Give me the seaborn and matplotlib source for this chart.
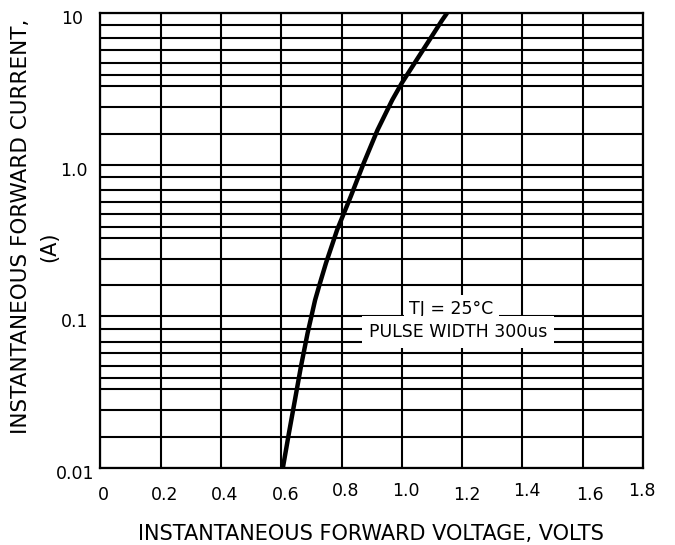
import numpy as np
import pandas as pd
import matplotlib
matplotlib.use("Agg")
import matplotlib.pyplot as plt
import matplotlib.transforms as mtransforms
from matplotlib.ticker import FixedLocator, NullFormatter
import seaborn as sns

# ---- data ----
voltage = [0.605, 0.625, 0.645, 0.665, 0.687, 0.712, 0.728, 0.748, 0.785, 0.830,
           0.873, 0.919, 0.968, 1.000, 1.070, 1.134, 1.150]
current = [0.010, 0.0169, 0.028, 0.0466, 0.0773, 0.128, 0.165, 0.224, 0.371, 0.615,
           1.02, 1.69, 2.67, 3.46, 5.7, 9.0, 10.0]

x_ticks = [0, 0.2, 0.4, 0.6, 0.8, 1.0, 1.2, 1.4, 1.6, 1.8]
x_tick_labels = ["0", "0.2", "0.4", "0.6", "0.8", "1.0", "1.2", "1.4", "1.6", "1.8"]
y_ticks = [0.01, 0.1, 1, 10]
y_tick_labels = ["0.01", "0.1", "1.0", "10"]
# horizontal grid lines inside each decade, as drawn on the reference sheet
grid_mantissas = [1.6, 2.4, 3.3, 3.9, 4.7, 5.7, 6.8, 8.3]
decades = [0.01, 0.1, 1]

x_label = "INSTANTANEOUS FORWARD VOLTAGE, VOLTS"
y_label_line1 = "INSTANTANEOUS FORWARD CURRENT,"
y_label_line2 = "(A)"
note_line1 = "TJ = 25°C"
note_line2 = "PULSE WIDTH 300us"

df = pd.DataFrame({"V": voltage, "I": current})

sns.set_style("white")
plt.rcParams["font.family"] = ["DejaVu Sans"]
plt.rcParams["text.color"] = "black"
plt.rcParams["axes.labelcolor"] = "black"
plt.rcParams["xtick.color"] = "black"
plt.rcParams["ytick.color"] = "black"

W, H = 675, 545
fig = plt.figure(figsize=(W / 100, H / 100), dpi=100)
L, R, T, B = 100.5, 643, 13, 468
ax = fig.add_axes([L / W, 1 - B / H, (R - L) / W, (B - T) / H])

ax.set_yscale("log")
ax.set_xlim(0, 1.8)
ax.set_ylim(0.01, 10)

# grid
minor = [m * d for d in decades for m in grid_mantissas]
ax.yaxis.set_minor_locator(FixedLocator(minor))
ax.yaxis.set_minor_formatter(NullFormatter())
ax.set_xticks(x_ticks)
ax.set_xticklabels(x_tick_labels)
ax.set_yticks(y_ticks)
ax.set_yticklabels(y_tick_labels)
ax.grid(True, which="both", axis="y", color="black", lw=1.5)
ax.grid(True, which="major", axis="x", color="black", lw=1.5)
ax.set_axisbelow(True)
for s in ax.spines.values():
    s.set_color("black")
    s.set_linewidth(1.6)
ax.tick_params(axis="both", which="both", length=0, colors="black")
ax.tick_params(axis="x", labelsize=12.5, pad=12.6)
ax.tick_params(axis="y", labelsize=12.5, pad=4.5)

# curve
sns.lineplot(data=df, x="V", y="I", ax=ax, color="black", lw=3.2,
             sort=False, estimator=None, zorder=3)
for ln in ax.get_lines():
    ln.set_solid_joinstyle("round")
    ln.set_solid_capstyle("butt")

# staggered tick labels as on the reference
px = 1 / 100.0
x_dx = [3, 4, 4, 4, 4, 4, 5, 4, 7, -1.5]
x_dy = [0, 0, 0, 0, 3, 3, 0, 3.5, 0, 3.5]
for lab, dx, dy in zip(ax.get_xticklabels(), x_dx, x_dy):
    lab.set_transform(lab.get_transform() +
                      mtransforms.ScaledTranslation(dx * px, dy * px, fig.dpi_scale_trans))
y_dx = [0, -6, -7, -11]
for lab, dx in zip(ax.get_yticklabels(), y_dx):
    lab.set_transform(lab.get_transform() +
                      mtransforms.ScaledTranslation(dx * px, -4 * px, fig.dpi_scale_trans))

# axis labels
ax.set_xlabel(x_label, fontsize=15, color="black")
ax.xaxis.set_label_coords((370.5 - L) / (R - L), -(534.5 - B) / (B - T))
ax.xaxis.label.set_va("center")
ax.set_ylabel(y_label_line1, fontsize=15.5, color="black")
ax.yaxis.set_label_coords((21 - L) / (R - L), (B - 226) / (B - T))
ax.yaxis.label.set_va("center")
ax.yaxis.label.set_ha("center")
ax.text((49 - L) / (R - L), (B - 247) / (B - T), y_label_line2, transform=ax.transAxes,
        rotation=90, fontsize=15, ha="center", va="center", color="black")

# annotation with white boxes over the grid
ax.text(1.165, 0.112, note_line1, fontsize=12.5, ha="center", va="center", zorder=4,
        color="black",
        bbox=dict(boxstyle="square,pad=0.3", facecolor="white", edgecolor="none"))
ax.text(1.186, 0.0787, note_line2, fontsize=12.5, ha="center", va="center", zorder=4,
        color="black",
        bbox=dict(boxstyle="square,pad=0.4", facecolor="white", edgecolor="none"))

fig.savefig("out.png", dpi=100, facecolor="white")
